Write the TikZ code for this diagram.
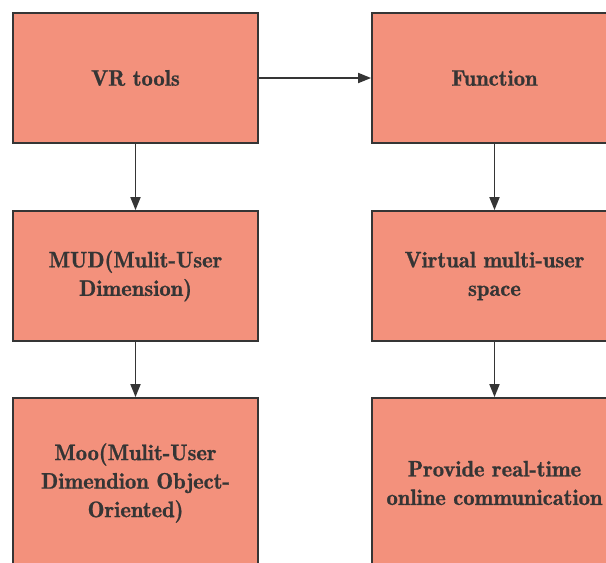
\documentclass[tikz,border=0pt]{standalone}
\usepackage{fontspec}
\newfontfamily\boxfont{lmromandemi10-regular.otf}[FakeBold=0.9]
\usetikzlibrary{arrows.meta}
\definecolor{boxfill}{HTML}{F3917C}
\definecolor{ink}{HTML}{353535}
\begin{document}
\begin{tikzpicture}[x=1pt,y=1pt,
  stepbox/.style={draw=ink, line width=1.8pt, fill=boxfill, rectangle,
    minimum width=245pt, minimum height=130pt, inner sep=0pt,
    align=center, text=ink,
    font={\boxfont\fontsize{22.5pt}{28.5pt}\selectfont}},
  tallbox/.style={stepbox, minimum height=170pt},
  link/.style={draw=ink, line width=1.8pt, -{Triangle[length=13pt,width=10pt]}}]
  \clip (0,0) rectangle (606,-563);
  \fill[white] (0,0) rectangle (606,-563);
  % left column
  \node[stepbox] (vr)  at (135.5,-78)  {VR tools};
  \node[stepbox] (mud) at (135.5,-276) {MUD(Mulit-User\\Dimension)};
  \node[tallbox] (moo) at (135.5,-483) {Moo(Mulit-User\\Dimendion Object-\\Oriented)};
  % right column
  \node[stepbox] (fn)  at (494.5,-78)  {Function};
  \node[stepbox] (vms) at (494.5,-276) {Virtual multi-user\\space};
  \node[tallbox] (rt)  at (494.5,-483) {Provide real-time\\online communication};
  % connectors
  \draw[link] (vr) -- (fn);
  \draw[link] (vr) -- (mud);
  \draw[link] (mud) -- (moo);
  \draw[link] (fn) -- (vms);
  \draw[link] (vms) -- (rt);
\end{tikzpicture}
\end{document}
